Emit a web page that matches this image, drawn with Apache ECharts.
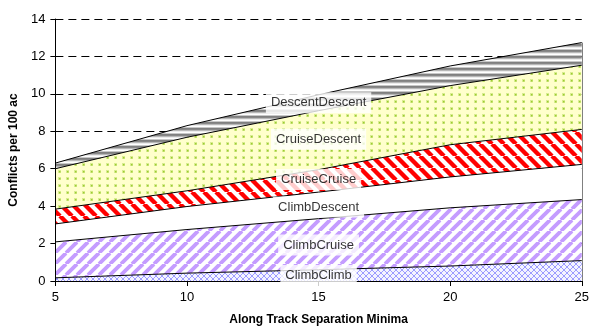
<!DOCTYPE html>
<html>
<head>
<meta charset="utf-8">
<script src="https://cdn.jsdelivr.net/npm/echarts@6/dist/echarts.min.js"></script>
<style>
html,body{margin:0;padding:0;background:#fff;}
#chart{width:592px;height:331px;}
</style>
</head>
<body>
<div id="chart"></div>
<script>
// ---- data ----
const categories = ['5', '10', '15', '20', '25'];
const climbClimb     = [0.17, 0.42, 0.60, 0.80, 1.09];
const climbCruise    = [1.92, 2.33, 2.73, 3.11, 3.26];
const climbDescent   = [0.96, 1.23, 1.42, 1.65, 1.88];
const cruiseCruise   = [0.79, 0.84, 1.20, 1.72, 1.87];
const cruiseDescent  = [2.16, 2.86, 3.15, 3.16, 3.43];
const descentDescent = [0.30, 0.62, 0.85, 1.05, 1.21];
const seriesNames = ['ClimbClimb','ClimbCruise','ClimbDescent','CruiseCruise','CruiseDescent','DescentDescent'];
const labelX = ['15', '15', '15', '15', '15', '15'];
const labelY = [0.29, 1.92, 3.95, 5.42, 7.58, 9.53];
const yTicks = [0, 2, 4, 6, 8, 10, 12, 14];

// ---- patterns ----
function tile(w, h, draw) {
  const c = document.createElement('canvas');
  c.width = w; c.height = h;
  const ctx = c.getContext('2d');
  draw(ctx, w, h);
  return { image: c, repeat: 'repeat' };
}
const patClimbClimb = tile(6, 6, (ctx, w, h) => {
  ctx.fillStyle = '#f4f4ff'; ctx.fillRect(0, 0, w, h);
  ctx.strokeStyle = '#9c9cff'; ctx.lineWidth = 1;
  for (let k = -1; k <= 1; k++) {
    ctx.beginPath(); ctx.moveTo(k * w, 0); ctx.lineTo(k * w + w, h); ctx.stroke();
    ctx.beginPath(); ctx.moveTo(k * w, h); ctx.lineTo(k * w + w, 0); ctx.stroke();
  }
});
const patClimbCruise = tile(11, 11, (ctx, w, h) => {
  ctx.fillStyle = '#ffffff'; ctx.fillRect(0, 0, w, h);
  ctx.strokeStyle = '#c49cff'; ctx.lineWidth = 3.8;
  for (let k = -1; k <= 1; k++) {
    ctx.beginPath(); ctx.moveTo(k * w, h); ctx.lineTo(k * w + w, 0); ctx.stroke();
  }
});
const patClimbDescent = '#ffffff';
const patCruiseCruise = tile(12, 12, (ctx, w, h) => {
  ctx.fillStyle = '#ffffff'; ctx.fillRect(0, 0, w, h);
  ctx.strokeStyle = '#ff0000'; ctx.lineWidth = 4.4;
  for (let k = -1; k <= 1; k++) {
    ctx.beginPath(); ctx.moveTo(k * w, 0); ctx.lineTo(k * w + w, h); ctx.stroke();
  }
});
const patCruiseDescent = tile(8, 7, (ctx, w, h) => {
  ctx.fillStyle = '#ffffcc'; ctx.fillRect(0, 0, w, h);
  ctx.fillStyle = '#d8ec90'; ctx.fillRect(2, 2, 3, 3);
  ctx.fillStyle = '#9ccc30'; ctx.fillRect(3, 3, 1.5, 1.5);
});
const patDescentDescent = tile(6, 6, (ctx, w, h) => {
  const rows = ['#ffffff', '#c8c8c8', '#808080', '#888888', '#b8b8b8', '#ececec'];
  rows.forEach((c, i) => { ctx.fillStyle = c; ctx.fillRect(0, i, w, 1); });
});
const patterns = [patClimbClimb, patClimbCruise, patClimbDescent, patCruiseCruise, patCruiseDescent, patDescentDescent];
const allValues = [climbClimb, climbCruise, climbDescent, cruiseCruise, cruiseDescent, descentDescent];

const FONT = 'Liberation Sans, Arial, sans-serif';
const lastIdx = categories.length - 1;
const stackTop = allValues.reduce((s, arr) => s + arr[lastIdx], 0);

const areaSeries = seriesNames.map((name, i) => {
  const s = {
    name: name,
    type: 'line',
    stack: 'total',
    symbol: 'none',
    z: 2,
    data: allValues[i],
    lineStyle: { color: '#000000', width: 1 },
    areaStyle: { color: patterns[i], opacity: 1 },
    emphasis: { disabled: true }
  };
  if (i === seriesNames.length - 1) {
    s.markLine = {
      silent: true, symbol: 'none', label: { show: false },
      lineStyle: { color: '#808080', width: 1, type: 'solid' },
      data: [[{ coord: [categories[lastIdx], 0] }, { coord: [categories[lastIdx], stackTop] }]]
    };
  }
  return s;
});

const labelSeries = {
  type: 'scatter',
  symbolSize: 0,
  z: 6,
  data: seriesNames.map((n, i) => [labelX[i], labelY[i], n]),
  label: {
    show: true,
    position: 'inside',
    formatter: p => p.data[2],
    color: '#000000',
    fontSize: 13,
    fontFamily: FONT,
    backgroundColor: '#ffffff',
    padding: [4, 5, 4, 5]
  },
  emphasis: { disabled: true }
};

const chart = echarts.init(document.getElementById('chart'), null, { renderer: 'canvas' });
chart.setOption({
  animation: false,
  backgroundColor: '#ffffff',
  grid: { left: 54, right: 6, top: 19, bottom: 46, containLabel: false },
  xAxis: {
    type: 'category',
    data: categories,
    boundaryGap: false,
    z: 3,
    name: 'Along Track Separation Minima',
    nameLocation: 'middle',
    nameGap: 33,
    nameTextStyle: { fontWeight: 'bold', fontSize: 12, color: '#000', fontFamily: FONT },
    axisLine: { show: true, lineStyle: { color: '#000', width: 1 } },
    axisTick: { show: true, length: 5, lineStyle: { color: '#000' } },
    axisLabel: { color: '#000', fontSize: 13, fontFamily: FONT, margin: 10 },
    splitLine: { show: false }
  },
  yAxis: {
    type: 'value',
    min: yTicks[0], max: yTicks[yTicks.length - 1], interval: 2,
    z: 0,
    name: 'Conflicts per 100 ac',
    nameLocation: 'middle',
    nameRotate: 90,
    nameGap: 31,
    nameTextStyle: { fontWeight: 'bold', fontSize: 12, color: '#000', fontFamily: FONT },
    axisLine: { show: false },
    axisTick: { show: false },
    axisLabel: { color: '#000', fontSize: 13, fontFamily: FONT, margin: 10 },
    splitLine: { show: true, lineStyle: { color: '#000', width: 1, type: [8, 5] } }
  },
  graphic: [],
  series: areaSeries.concat([labelSeries])
});
// y-axis line drawn above the areas via a second, label-less axis
chart.setOption({
  yAxis: [{}, {
    type: 'value', position: 'left',
    min: yTicks[0], max: yTicks[yTicks.length - 1], interval: 2, z: 3,
    axisLine: { show: true, lineStyle: { color: '#000', width: 1 } },
    axisTick: { show: true, length: 5, lineStyle: { color: '#000' } },
    axisLabel: { show: false }, splitLine: { show: false }
  }]
});
</script>
</body>
</html>
